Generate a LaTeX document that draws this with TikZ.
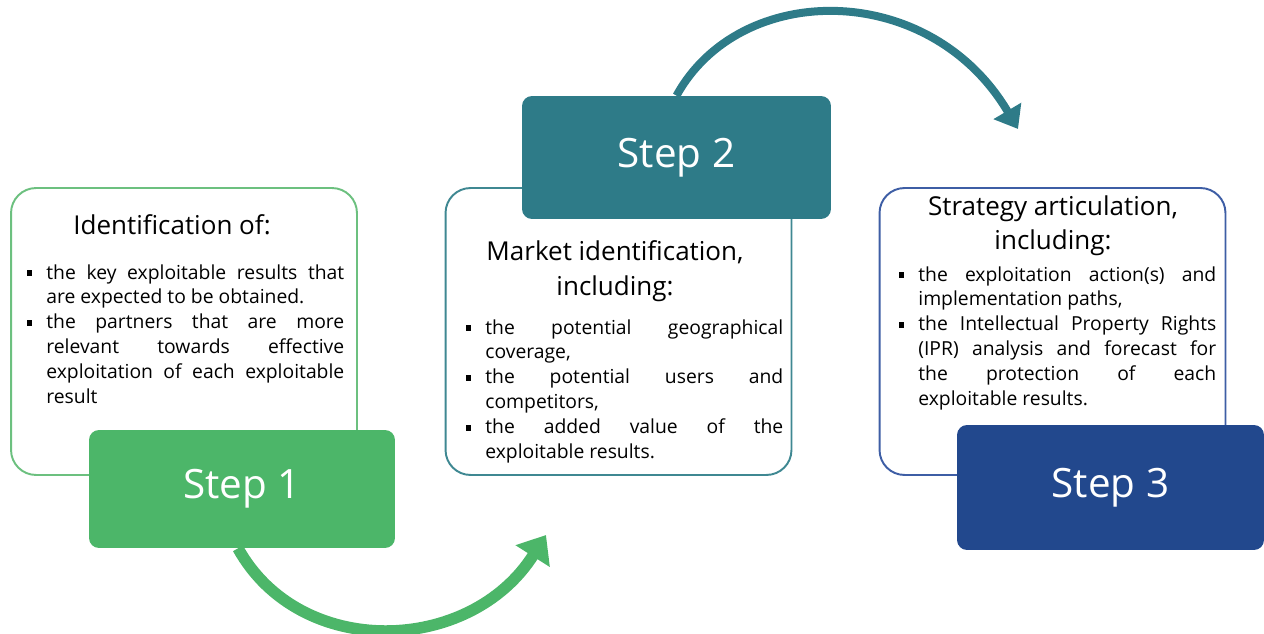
\documentclass[tikz,border=0pt]{standalone}
\usepackage{fontspec}
\setmainfont{Open Sans}
\usetikzlibrary{arrows.meta}
\definecolor{gfill}{HTML}{4CB669}
\definecolor{gline}{HTML}{6CC07F}
\definecolor{tfill}{HTML}{2E7B88}
\definecolor{tline}{HTML}{3F8892}
\definecolor{bfill}{HTML}{22488D}
\definecolor{bline}{HTML}{3E5EA5}
\newcommand\bul{\noindent\llap{\raisebox{0.3ex}{\rule{0.11cm}{0.11cm}}\hspace{0.28cm}}}
\tikzset{
  outbox/.style={draw, line width=1.1pt, fill=white, rounded corners=0.5cm, minimum width=6.92cm, minimum height=5.74cm, inner sep=0pt},
  stepbox/.style={rounded corners=0.2cm, text=white, font=\fontsize{23}{26}\selectfont, inner sep=0pt},
  titletext/.style={align=center, font=\fontsize{14.8}{19.6}\selectfont, inner sep=0pt},
  bultext/.style={anchor=north west, text width=5.96cm, align=justify, font=\fontsize{11}{14.2}\selectfont, inner sep=0pt},
  bigarrow/.style={line cap=butt}
}
\begin{document}
\begin{tikzpicture}[x=0.02cm,y=-0.02cm]
\useasboundingbox (0,0) rectangle (1264,634);
% outline boxes
\node[outbox, draw=gline] (b1) at (184,331.5) {};
\node[outbox, draw=tline] (b2) at (618.5,331.5) {};
\node[outbox, draw=bline] (b3) at (1052.5,331.5) {};
% titles
\node[titletext] (t1) at (172,225) {Identification of:};
\node[titletext] (t2) at (615,271) {Market identification,\\including:};
\node[titletext] (t3) at (1053,226) {Strategy articulation,\\including:};
% bullets
\node[bultext] (l1) at (46,264) {\bul the key exploitable results that \linebreak are expected to be obtained.\par
\bul the partners that are more \linebreak relevant towards effective \linebreak exploitation of each exploitable \linebreak result};
\node[bultext] (l2) at (485,319) {\bul the potential geographical \linebreak coverage,\par
\bul the potential users and \linebreak competitors,\par
\bul the added value of the \linebreak exploitable results.};
\node[bultext] (l3) at (918,266) {\bul the exploitation action(s) and \linebreak implementation paths,\par
\bul the Intellectual Property Rights \linebreak (IPR) analysis and forecast for \linebreak the protection of each \linebreak exploitable results.};
% step boxes
\node[stepbox, fill=gfill, minimum width=6.12cm, minimum height=2.36cm] (s1) at (242,489) {Step 1};
\node[stepbox, fill=tfill, minimum width=6.18cm, minimum height=2.46cm] (s2) at (676.5,157.5) {Step 2};
\node[stepbox, fill=bfill, minimum width=6.14cm, minimum height=2.5cm] (s3) at (1110.5,487.5) {Step 3};
% arrows
\coordinate (e1) at (546,535);
\coordinate (e2) at (1018,129);
\draw[bigarrow, draw=gfill, line width=0.23cm, -{Triangle[length=0.5cm,width=0.78cm]}]
  ([xshift=-0.08cm]s1.south) .. controls (300,660) and (470,655) .. (e1);
\draw[bigarrow, draw=tfill, line width=0.16cm, -{Triangle[length=0.42cm,width=0.62cm]}]
  (s2.north) .. controls (740,-20) and (930,-20) .. (e2);
\end{tikzpicture}
\end{document}
